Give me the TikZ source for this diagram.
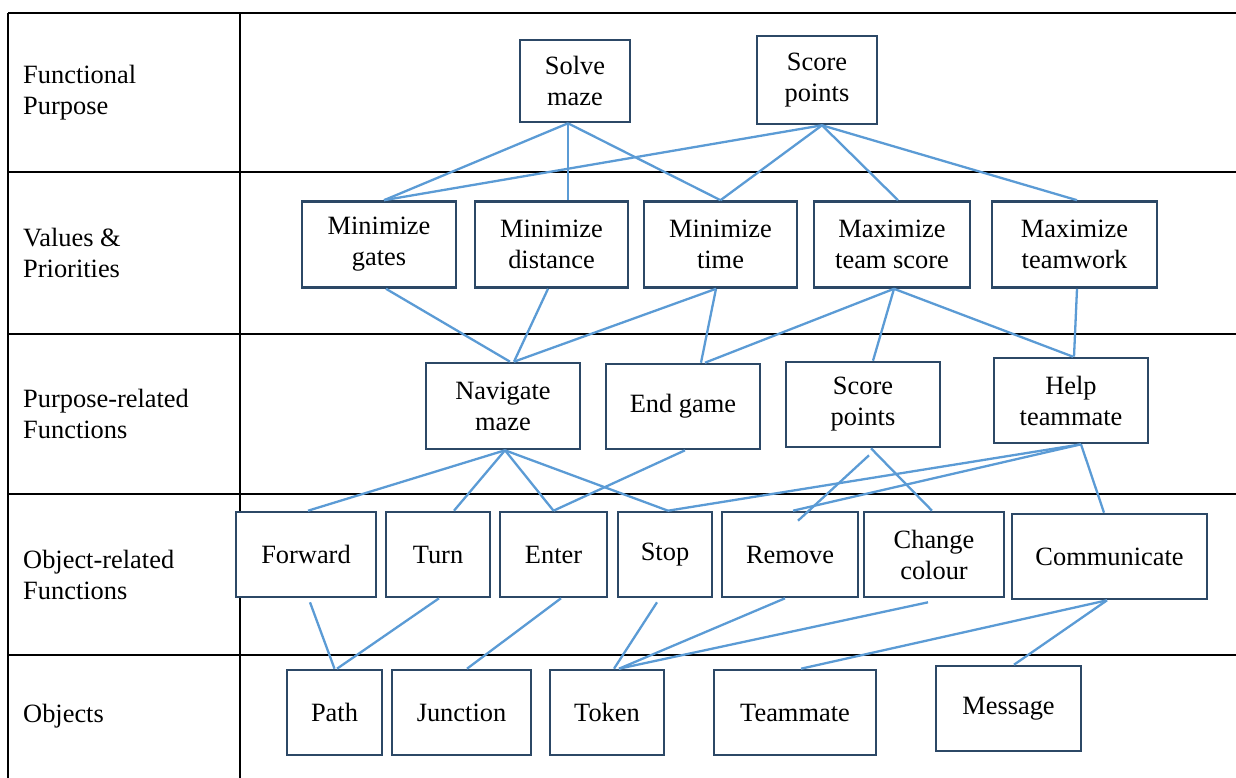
\documentclass[tikz,border=0pt]{standalone}
\usepackage{fontspec}
\setmainfont{Liberation Serif}
\usepackage{xcolor}
\usepackage{tikz}

\definecolor{boxcol}{RGB}{44,72,102}
\definecolor{linkcol}{RGB}{91,155,213}

\tikzset{
	tabline/.style={line width=2.2pt, black},
	box/.style={draw=boxcol, line width=2.6pt, fill=white, align=center, inner sep=0pt, minimum height=86pt},
	rowlab/.style={anchor=west, align=left, inner sep=0pt},
	link/.style={draw=linkcol, line width=2.3pt}
}

\begin{document}
\begin{tikzpicture}[x=1pt, y=-1pt, font=\fontsize{26.4}{31}\selectfont]
	\useasboundingbox (0,0) rectangle (1236,778);
	% Table grid:
	\draw[tabline] (8,13) -- (8,778);
	\draw[tabline] (240,13) -- (240,778);
	\foreach \y in {13,172,334,494,655}
		\draw[tabline] (8,\y) -- (1236,\y);
	% Row labels:
	\node[rowlab] (lfp) at (23,92.5) {Functional\\Purpose};
	\node[rowlab] (lvp) at (23,253) {Values \&\\Priorities};
	\node[rowlab] (lprf) at (23,414) {Purpose-related\\Functions};
	\node[rowlab] (lorf) at (23,574.5) {Object-related\\Functions};
	\node[rowlab] (lobj) at (23,716.5) {Objects};
	% Functional purpose:
	\node[box, minimum width=110pt, minimum height=82pt] (solve) at (575,81) {Solve\\maze};
	\node[box, minimum width=120pt, minimum height=88pt] (scoreA) at (817,80) {Score\\points};
	% Values and priorities:
	\node[box, minimum width=154pt] (gates) at (379,244.5) {Minimize\\gates};
	\node[box, minimum width=153pt] (dist) at (551.5,244.5) {Minimize\\distance};
	\node[box, minimum width=153pt] (time) at (720.5,244.5) {Minimize\\time};
	\node[box, minimum width=156pt] (tscore) at (892,244.5) {Maximize\\team score};
	\node[box, minimum width=165pt] (twork) at (1074.5,244.5) {Maximize\\teamwork};
	% Purpose-related functions:
	\node[box, minimum width=154pt] (nav) at (503,406) {Navigate\\maze};
	\node[box, minimum width=154pt, minimum height=85pt] (endg) at (683,406.5) {End game};
	\node[box, minimum width=154pt, minimum height=85pt] (scoreB) at (863,404.5) {Score\\points};
	\node[box, minimum width=154pt, minimum height=85pt] (help) at (1071,400.5) {Help\\teammate};
	% Object-related functions:
	\node[box, minimum width=140pt, minimum height=85pt] (fwd) at (306,554.5) {Forward};
	\node[box, minimum width=104pt, minimum height=85pt] (turn) at (438,554.5) {Turn};
	\node[box, minimum width=107pt, minimum height=85pt] (enter) at (553.5,554.5) {Enter};
	\node[box, minimum width=94pt, minimum height=85pt] (stop) at (665,554.5) {Stop};
	\node[box, minimum width=136pt, minimum height=85pt] (remove) at (790,554.5) {Remove};
	\node[box, minimum width=140pt, minimum height=85pt] (colour) at (934,554.5) {Change\\colour};
	\node[box, minimum width=195pt, minimum height=85pt] (comm) at (1109.5,556.5) {Communicate};
	% Objects:
	\node[box, minimum width=95pt, minimum height=85pt] (path) at (334.5,712.5) {Path};
	\node[box, minimum width=139pt, minimum height=85pt] (junc) at (461.5,712.5) {Junction};
	\node[box, minimum width=114pt, minimum height=85pt] (token) at (607,712.5) {Token};
	\node[box, minimum width=162pt, minimum height=85pt] (mate) at (795,712.5) {Teammate};
	\node[box, minimum width=145pt, minimum height=85pt] (msg) at (1008.5,708.5) {Message};
	% Purpose -> values:
	\draw[link] ([xshift=-7pt]solve.south) -- ([xshift=5pt]gates.north);
	\draw[link] ([xshift=-7pt]solve.south) -- ([xshift=16.5pt]dist.north);
	\draw[link] ([xshift=-7pt]solve.south) -- (time.north);
	\draw[link] ([xshift=5pt]scoreA.south) -- ([xshift=5pt]gates.north);
	\draw[link] ([xshift=5pt]scoreA.south) -- (time.north);
	\draw[link] ([xshift=5pt]scoreA.south) -- ([xshift=6pt]tscore.north);
	\draw[link] ([xshift=5pt]scoreA.south) -- ([xshift=2.5pt]twork.north);
	% Values -> purpose-related functions:
	\draw[link] ([xshift=7pt]gates.south) -- ([xshift=7pt]nav.north);
	\draw[link] ([xshift=-3.5pt]dist.south) -- ([xshift=11pt]nav.north);
	\draw[link] ([xshift=-4.5pt]time.south) -- ([xshift=11pt]nav.north);
	\draw[link] ([xshift=-4.5pt]time.south) -- ([xshift=18pt]endg.north);
	\draw[link] ([xshift=2pt]tscore.south) -- ([xshift=22pt]endg.north);
	\draw[link] ([xshift=2pt]tscore.south) -- ([xshift=10pt]scoreB.north);
	\draw[link] ([xshift=2pt]tscore.south) -- ([xshift=2pt]help.north);
	\draw[link] ([xshift=2.5pt]twork.south) -- ([xshift=3pt]help.north);
	% Purpose-related -> object-related functions:
	\draw[link] ([xshift=2pt]nav.south) -- ([xshift=2pt]fwd.north);
	\draw[link] ([xshift=2pt]nav.south) -- ([xshift=16pt]turn.north);
	\draw[link] ([xshift=2pt]nav.south) -- (enter.north);
	\draw[link] ([xshift=2pt]nav.south) -- ([xshift=3pt]stop.north);
	\draw[link] ([xshift=2pt]endg.south) -- (enter.north);
	\draw[link] ([xshift=8pt]scoreB.south) -- ([xshift=-2pt]colour.north);
	\draw[link] ([shift={(6pt,-7pt)}]scoreB.south) -- ([shift={(8pt,-10pt)}]remove.north);
	\draw[link] ([xshift=10pt]help.south) -- ([xshift=3pt]stop.north);
	\draw[link] ([xshift=10pt]help.south) -- ([xshift=3pt]remove.north);
	\draw[link] ([xshift=10pt]help.south) -- ([xshift=-5.5pt]comm.north);
	% Object-related functions -> objects:
	\draw[link] ([shift={(4pt,-4pt)}]fwd.south) -- (path.north);
	\draw[link] ([xshift=1pt]turn.south) -- ([xshift=2.5pt]path.north);
	\draw[link] ([xshift=7.5pt]enter.south) -- ([xshift=5.5pt]junc.north);
	\draw[link] ([shift={(-8pt,-4pt)}]stop.south) -- ([xshift=7pt]token.north);
	\draw[link] ([xshift=-5pt]remove.south) -- ([xshift=12pt]token.north);
	\draw[link] ([shift={(-6pt,-4pt)}]colour.south) -- ([xshift=12pt]token.north);
	\draw[link] ([xshift=-2.5pt]comm.south) -- ([xshift=6pt]mate.north);
	\draw[link] ([xshift=-2.5pt]comm.south) -- ([xshift=5.5pt]msg.north);
\end{tikzpicture}
\end{document}
